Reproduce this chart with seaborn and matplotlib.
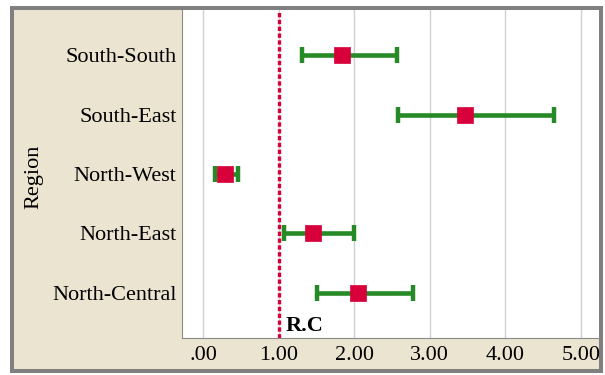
import matplotlib
matplotlib.use("Agg")
import matplotlib.pyplot as plt
import seaborn as sns
import pandas as pd
from matplotlib.patches import Rectangle

regions = ["South-South", "South-East", "North-West", "North-East", "North-Central"]
estimate = [1.84, 3.46, 0.29, 1.46, 2.05]
lower = [1.31, 2.58, 0.16, 1.07, 1.51]
upper = [2.57, 4.64, 0.46, 2.00, 2.78]
xticks = [0, 1, 2, 3, 4, 5]
xticklabels = [".00", "1.00", "2.00", "3.00", "4.00", "5.00"]
ref_value = 1.0
ref_label = "R.C"

sns.set_theme(style="white")
plt.rcParams["font.family"] = ["Liberation Serif", "DejaVu Serif"]

df = pd.DataFrame({"Region": regions, "est": estimate, "lo": lower, "hi": upper})
df["pos"] = range(len(df))

fig = plt.figure(figsize=(6.05, 3.75), dpi=100)
fig.patch.set_facecolor("white")
W, H = 605, 375
# framed beige panel
panel = Rectangle((12 / W, 1 - 371 / H), (601 - 12) / W, (371 - 8) / H,
                  transform=fig.transFigure, facecolor="#ebe4d1",
                  edgecolor="#808080", linewidth=2.9, zorder=-10)
fig.add_artist(panel)

ax = fig.add_axes([182 / W, 1 - 338 / H, (599 - 182) / W, (338 - 10) / H])
ax.set_zorder(1)
ax.set_facecolor("white")

green = "#268a26"
red = "#d8003a"

ax.errorbar(df["est"], df["pos"],
            xerr=[df["est"] - df["lo"], df["hi"] - df["est"]],
            fmt="none", ecolor=green, elinewidth=3.3, capsize=5.5, capthick=3.2, zorder=3)
sns.scatterplot(data=df, x="est", y="pos", marker="s", s=125, color=red,
                edgecolor=red, linewidth=0.5, ax=ax, zorder=4, legend=False)

ax.axvline(ref_value, color=red, linewidth=2.4, linestyle=(0, (1.3, 0.75)), zorder=5)
ax.text(ref_value + 0.09, 4.56, ref_label, fontsize=16, fontweight="bold",
        va="center", ha="left", color="black")

ax.set_xlim(-0.28, 5.24)
ax.set_ylim(4.76, -0.76)
ax.set_xticks(xticks)
ax.set_xticklabels(xticklabels)
ax.set_yticks(df["pos"])
ax.set_yticklabels(regions)
ax.tick_params(axis="both", length=0, labelsize=16, colors="black")
ax.tick_params(axis="x", pad=6)
ax.tick_params(axis="y", pad=4)
ax.grid(axis="x", color="#d0d0d0", linewidth=1.0)
ax.grid(axis="y", visible=False)
ax.set_axisbelow(True)

ax.set_xlabel("")
ax.set_ylabel("Region", fontsize=16, color="black")
ax.yaxis.set_label_coords((43 - 182) / (599 - 182), 0.49)

for side in ["top", "right"]:
    ax.spines[side].set_visible(False)
for side in ["left", "bottom"]:
    ax.spines[side].set_color("#8a8a8a")
    ax.spines[side].set_linewidth(0.8)

fig.savefig("out.png", dpi=100)
